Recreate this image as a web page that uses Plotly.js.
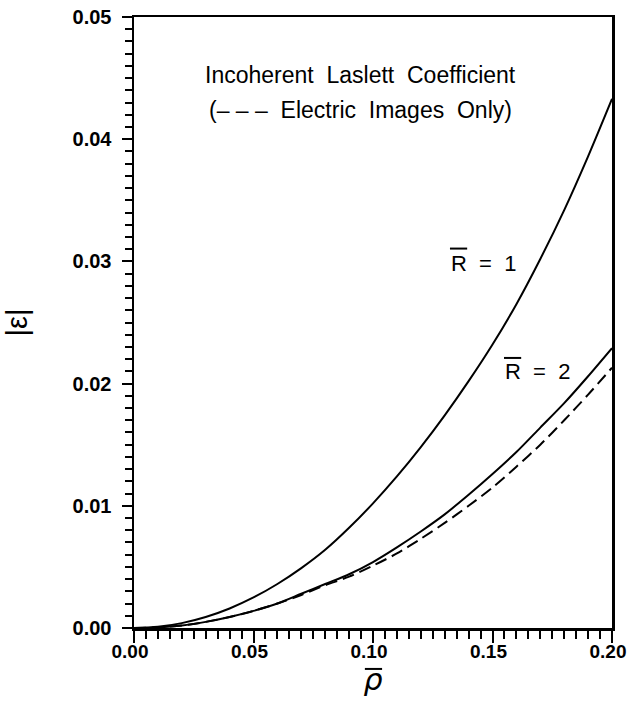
<!DOCTYPE html>
<html>
<head>
<meta charset="utf-8">
<script src="https://cdn.plot.ly/plotly-3.0.1.min.js"></script>
<style>html,body{margin:0;padding:0;background:#fff;}#chart{width:629px;height:706px;}</style>
</head>
<body>
<div id="chart"></div>
<script>
// Data
const rho = [0, 0.01, 0.02, 0.03, 0.04, 0.05, 0.06, 0.07, 0.08, 0.09, 0.10,
             0.11, 0.12, 0.13, 0.14, 0.15, 0.16, 0.17, 0.18, 0.19, 0.20];
const epsR1 = [0, 0.0001, 0.0004, 0.0009, 0.0016, 0.0025, 0.0036, 0.0049, 0.0064, 0.0082, 0.0102,
               0.0124, 0.0148, 0.0174, 0.0202, 0.0232, 0.0265, 0.0302, 0.0342, 0.0386, 0.0433];
const epsR2 = [0, 0.00005, 0.0002, 0.0005, 0.0009, 0.0014, 0.0020, 0.0028, 0.0036, 0.0044, 0.0054,
               0.0066, 0.0079, 0.0093, 0.0109, 0.0126, 0.0144, 0.0164, 0.0184, 0.0206, 0.0229];
const epsR2Electric = [0, 0.00005, 0.0002, 0.0005, 0.0009, 0.0014, 0.0020, 0.0027, 0.0035, 0.0042, 0.0051,
               0.0061, 0.0073, 0.0086, 0.0100, 0.0115, 0.0132, 0.0150, 0.0170, 0.0191, 0.0213];
const yTicks = [0, 0.01, 0.02, 0.03, 0.04, 0.05];
const yTickText = ["0.00", "0.01", "0.02", "0.03", "0.04", "0.05"];
const xTicks = [0, 0.05, 0.10, 0.15, 0.20];
const xTickText = ["0.00", "0.05", "0.10", "0.15", "0.20"];

const FONT = "Liberation Sans, Arial, sans-serif";

const traces = [
  {x: rho, y: epsR1, mode: "lines", line: {color: "#000", width: 2, shape: "spline", smoothing: 0.8}, name: "R=1"},
  {x: rho, y: epsR2, mode: "lines", line: {color: "#000", width: 2, shape: "spline", smoothing: 0.8}, name: "R=2"},
  {x: rho, y: epsR2Electric, mode: "lines", line: {color: "#000", width: 2, dash: "12px,6px", shape: "spline", smoothing: 0.8}, name: "R=2 electric"}
];

const layout = {
  width: 629, height: 706,
  margin: {l: 134, r: 17, t: 17, b: 78},
  paper_bgcolor: "#fff", plot_bgcolor: "#fff",
  showlegend: false,
  font: {family: FONT, color: "#000", size: 19},
  xaxis: {
    range: [0, 0.2], tickvals: xTicks, ticktext: xTickText,
    ticks: "outside", ticklen: 12, tickwidth: 2, tickcolor: "#000",
    minor: {dtick: 0.005, ticks: "outside", ticklen: 8, tickwidth: 2, tickcolor: "#000", showgrid: false},
    showline: true, linewidth: 2.5, linecolor: "#000", mirror: true,
    showgrid: false, zeroline: false,
    ticklabeloverflow: "allow",
    ticklabelstandoff: -7,
    ticklabelshift: -4,
    tickfont: {family: FONT, size: 19, weight: "bold"},
    title: {text: "<i>ρ</i>", font: {family: "DejaVu Sans, sans-serif", size: 30}, standoff: 6}
  },
  yaxis: {
    range: [0, 0.05], tickvals: yTicks, ticktext: yTickText,
    ticks: "outside", ticklen: 10, tickwidth: 2, tickcolor: "#000",
    minor: {dtick: 0.001, ticks: "outside", ticklen: 7, tickwidth: 2, tickcolor: "#000", showgrid: false},
    showline: true, linewidth: 2.5, linecolor: "#000", mirror: true,
    showgrid: false, zeroline: false,
    ticklabelstandoff: 6,
    tickfont: {family: FONT, size: 20, weight: "bold"},
    title: {text: "|ε|", font: {family: "Liberation Sans, Arial, sans-serif", size: 29}, standoff: 37}
  },
  annotations: [
    {xref: "paper", yref: "paper", x: 0.473, y: 0.905, text: "Incoherent  Laslett  Coefficient",
     showarrow: false, font: {family: FONT, size: 23}, xanchor: "center", yanchor: "middle"},
    {xref: "paper", yref: "paper", x: 0.473, y: 0.848, text: "(– – –  Electric  Images  Only)",
     showarrow: false, font: {family: FONT, size: 23}, xanchor: "center", yanchor: "middle"},
    {xref: "paper", yref: "paper", x: 0.659, y: 0.597, text: "R  =  1",
     showarrow: false, font: {family: FONT, size: 22}, xanchor: "left", yanchor: "middle"},
    {xref: "paper", yref: "paper", x: 0.772, y: 0.419, text: "R  =  2",
     showarrow: false, font: {family: FONT, size: 22}, xanchor: "left", yanchor: "middle"}
  ],
  shapes: [
    {type: "line", xref: "paper", yref: "paper", x0: 0.661, x1: 0.697, y0: 0.621, y1: 0.621, line: {color: "#000", width: 2}},
    {type: "line", xref: "paper", yref: "paper", x0: 0.774, x1: 0.810, y0: 0.442, y1: 0.442, line: {color: "#000", width: 2}},
    {type: "line", xref: "paper", yref: "paper", x0: 0.483, x1: 0.519, y0: -0.067, y1: -0.067, line: {color: "#000", width: 2}}
  ]
};

Plotly.newPlot("chart", traces, layout, {displayModeBar: false, staticPlot: true});
</script>
</body>
</html>
